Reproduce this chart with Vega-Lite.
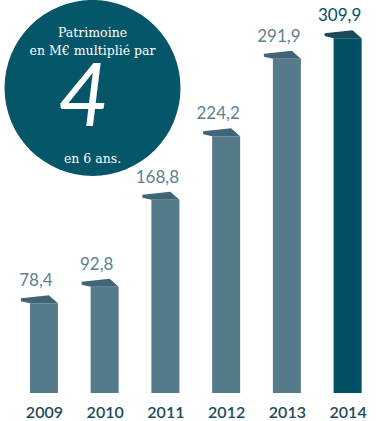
{
  "$schema": "https://vega.github.io/schema/vega-lite/v6.json",
  "width": 376,
  "height": 399,
  "autosize": "none",
  "padding": {"left": 0, "top": 0, "right": 0, "bottom": 22},
  "background": "white",
  "config": {
    "view": {"stroke": null},
    "locale": {"number": {"decimal": ",", "thousands": " ", "grouping": [3], "currency": ["", " €"]}}
  },
  "datasets": {
    "bars": [
      {"year": 2009, "value": 78.4},
      {"year": 2010, "value": 92.8},
      {"year": 2011, "value": 168.8},
      {"year": 2012, "value": 224.2},
      {"year": 2013, "value": 291.9},
      {"year": 2014, "value": 309.9}
    ],
    "note": [{"year": 2009.8, "value": 266.4}]
  },
  "encoding": {
    "x": {
      "field": "year",
      "type": "quantitative",
      "scale": {"domain": [2008.359, 2014.385], "nice": false, "zero": false},
      "axis": {
        "values": [2009, 2010, 2011, 2012, 2013, 2014],
        "format": "d",
        "title": null,
        "domain": false,
        "ticks": false,
        "grid": false,
        "labelFlush": false,
        "labelFont": "Lato",
        "labelFontSize": 16,
        "labelFontWeight": 600,
        "labelColor": "#1d4b5c",
        "labelPadding": 5
      }
    },
    "y": {
      "field": "value",
      "type": "quantitative",
      "scale": {"domain": [-5.2, 343.2], "nice": false, "zero": false},
      "axis": null
    }
  },
  "layer": [
    {
      "data": {"name": "bars"},
      "mark": {"type": "bar", "size": 28},
      "encoding": {
        "y2": {"datum": 0},
        "color": {
          "condition": {"test": "datum.year === 2014", "value": "#004f64"},
          "value": "#557b8b"
        }
      }
    },
    {
      "data": {"name": "bars"},
      "mark": {
        "type": "point",
        "shape": "M-1,-0.27 L0.51,-0.43 L1,0 L-0.51,0 L-1,-0.11 Z",
        "size": 1369,
        "filled": true,
        "opacity": 1,
        "strokeWidth": 0,
        "xOffset": -4.5
      },
      "encoding": {
        "color": {
          "condition": {"test": "datum.year === 2014", "value": "#1c4a58"},
          "value": "#416576"
        }
      }
    },
    {
      "data": {"name": "bars"},
      "mark": {
        "type": "text",
        "font": "Lato",
        "fontSize": 17,
        "align": "center",
        "baseline": "middle",
        "xOffset": -8,
        "dy": -22
      },
      "encoding": {
        "text": {"field": "value", "type": "quantitative", "format": ".1f"},
        "color": {
          "condition": {"test": "datum.year === 2014", "value": "#004f64"},
          "value": "#5b8193"
        }
      }
    },
    {
      "data": {"values": [{}]},
      "mark": {"type": "rule", "stroke": "#2b6377", "strokeWidth": 2},
      "encoding": {
        "x": {"datum": 2008.68, "type": "quantitative"},
        "x2": {"datum": 2014.17},
        "y": {"datum": -5.2, "type": "quantitative"}
      }
    },
    {
      "data": {"name": "note"},
      "mark": {"type": "point", "shape": "circle", "size": 30976, "filled": true, "opacity": 1, "strokeWidth": 0, "color": "#06566a"}
    },
    {
      "data": {"name": "note"},
      "mark": {"type": "text", "text": "Patrimoine", "font": "DejaVu Serif", "fontSize": 12.5, "color": "white", "align": "center", "baseline": "middle", "dy": -55}
    },
    {
      "data": {"name": "note"},
      "mark": {"type": "text", "text": "en M€ multiplié par", "font": "DejaVu Serif", "fontSize": 12.5, "color": "white", "align": "center", "baseline": "middle", "dy": -37}
    },
    {
      "data": {"name": "note"},
      "mark": {"type": "text", "text": "4", "font": "Lato", "fontSize": 88, "fontWeight": 400, "fontStyle": "italic", "color": "white", "align": "center", "baseline": "middle", "dx": -9, "dy": 12}
    },
    {
      "data": {"name": "note"},
      "mark": {"type": "text", "text": "en 6 ans.", "font": "DejaVu Serif", "fontSize": 12.5, "color": "white", "align": "center", "baseline": "middle", "dy": 71}
    }
  ]
}
